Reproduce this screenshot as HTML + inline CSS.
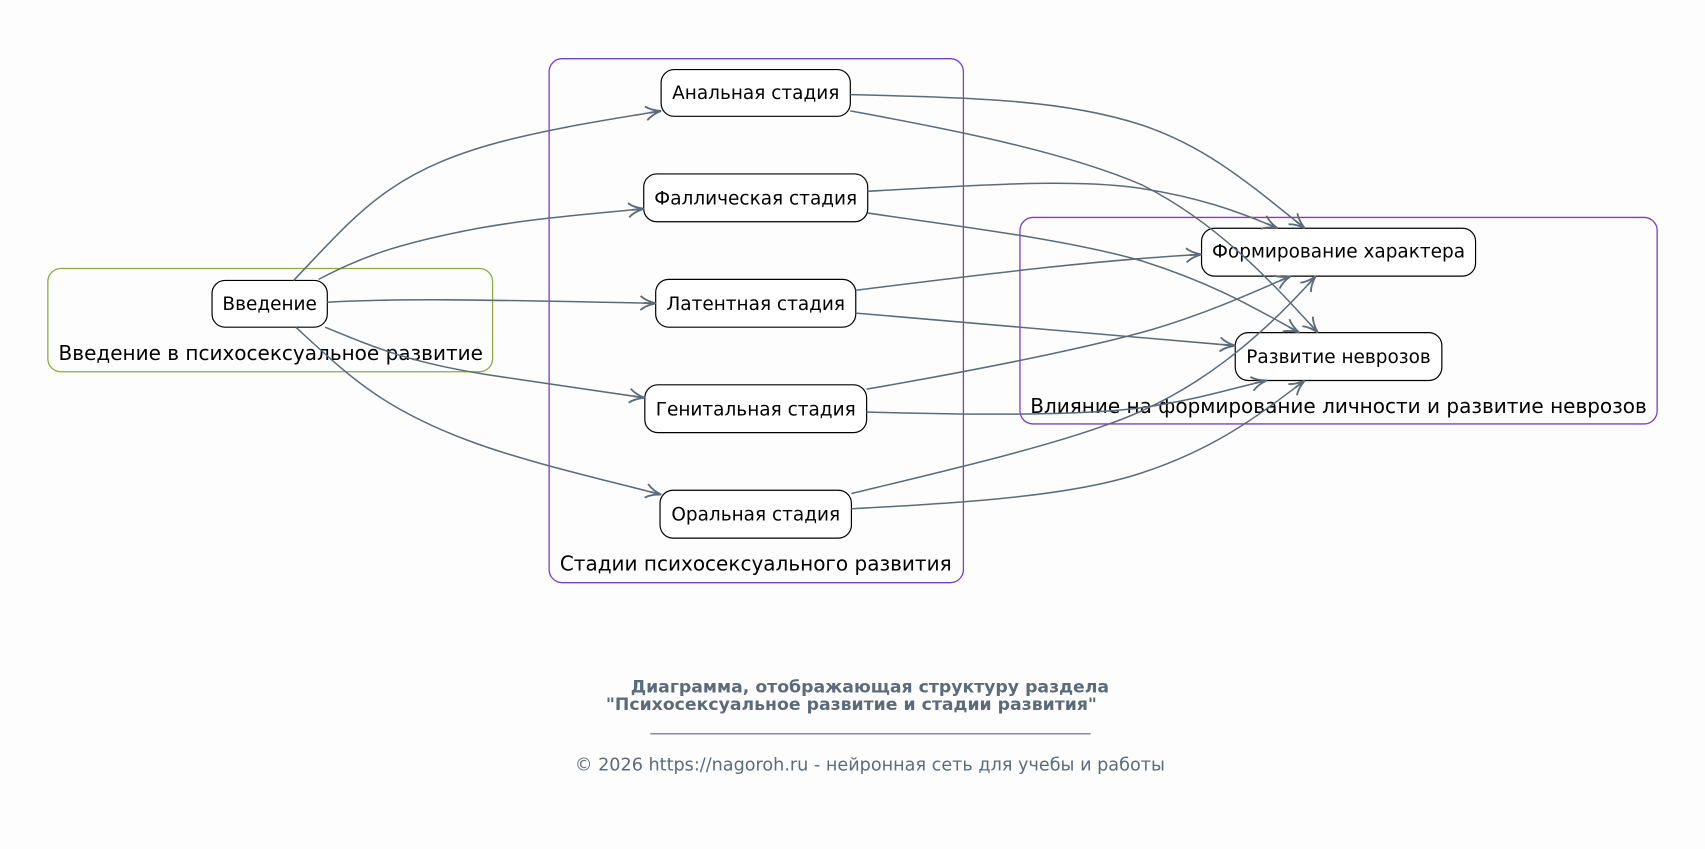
<!DOCTYPE html>
<html><head><meta charset="utf-8"><style>
html,body{margin:0;padding:0;background:#fdfdfd;}
svg{display:block;}
text{font-family:"DejaVu Sans","Liberation Sans",sans-serif;}
</style></head><body>
<svg width="1705" height="849" viewBox="0 0 1568 781" preserveAspectRatio="none" xmlns="http://www.w3.org/2000/svg">
<defs>
<marker id="a" viewBox="0 0 16 16" refX="15" refY="8" markerWidth="16" markerHeight="16" markerUnits="userSpaceOnUse" orient="auto">
<path d="M1,1.5 Q6,6 15,8 Q6,10 1,14.5 M15,8 L4,8" fill="none" stroke="#5c6b7a" stroke-width="1.7"/>
</marker>
</defs>
<rect width="1568" height="781" fill="#fdfdfd"/>
<rect x="44" y="247" width="409" height="95" rx="12" fill="none" stroke="#8aad3f" stroke-width="1.2"/>
<text x="249" y="331" font-size="18.4" text-anchor="middle">Введение в психосексуальное развитие</text>
<rect x="505" y="54" width="381" height="482" rx="12" fill="none" stroke="#7b3fc4" stroke-width="1.2"/>
<text x="695" y="525" font-size="18.4" text-anchor="middle">Стадии психосексуального развития</text>
<rect x="938" y="200" width="586" height="190" rx="12" fill="none" stroke="#7b3fc4" stroke-width="1.2"/>
<text x="1231" y="380" font-size="18.4" text-anchor="middle">Влияние на формирование личности и развитие неврозов</text>
<g fill="#fff" stroke="#000" stroke-width="1.1">
<rect x="195" y="258" width="106" height="43" rx="12"/>
<rect x="608" y="64" width="174" height="43" rx="12"/>
<rect x="592" y="160" width="206" height="44" rx="12"/>
<rect x="603" y="257" width="184" height="44" rx="12"/>
<rect x="593" y="354" width="204" height="44" rx="12"/>
<rect x="607" y="451" width="176" height="44" rx="12"/>
<rect x="1105" y="210" width="252" height="44" rx="12"/>
<rect x="1136" y="306" width="190" height="44" rx="12"/>
</g>
<g font-size="17" text-anchor="middle">
<text x="248" y="285">Введение</text>
<text x="695" y="91">Анальная стадия</text>
<text x="695" y="188">Фаллическая стадия</text>
<text x="695" y="285">Латентная стадия</text>
<text x="695" y="382">Генитальная стадия</text>
<text x="695" y="479">Оральная стадия</text>
<text x="1231" y="237">Формирование характера</text>
<text x="1231" y="334">Развитие неврозов</text>
</g>
<g fill="none" stroke="#5c6b7a" stroke-width="1.4" marker-end="url(#a)">
<path d="M270,258 C330,195 360,155 470,128 C520,116 560,110 608,102"/>
<path d="M293,257 C330,238 360,225 440,210 C490,201 540,197 592,192"/>
<path d="M301,278 C380,274 450,276 603,279"/>
<path d="M299,301 C350,322 380,334 450,345 L593,366"/>
<path d="M272,301 C320,345 350,375 430,405 C480,424 550,440 608,455"/>
<path d="M782,87 C900,90 980,92 1050,115 C1110,135 1150,170 1200,210"/>
<path d="M782,102 C880,120 980,140 1050,170 C1120,205 1170,260 1212,306"/>
<path d="M798,176 C900,170 980,165 1040,172 C1100,180 1140,195 1175,210"/>
<path d="M798,196 C880,208 980,220 1050,240 C1120,262 1160,287 1195,306"/>
<path d="M787,267 C900,253 1000,240 1105,234"/>
<path d="M787,288 L1136,318"/>
<path d="M797,358 C900,340 1000,320 1060,303 C1110,288 1150,270 1187,254"/>
<path d="M797,379 C900,382 1000,382 1050,375 C1100,368 1130,358 1165,350"/>
<path d="M783,454 C870,433 960,412 1020,390 C1100,362 1160,310 1210,254"/>
<path d="M783,468 C900,462 990,455 1050,435 C1120,412 1160,380 1200,350"/>
</g>
<g fill="#5c6b7a" text-anchor="middle">
<text x="800" y="637" font-size="15.9" font-weight="bold">Диаграмма, отображающая структуру раздела</text>
<text x="783" y="653" font-size="15.9" font-weight="bold">"Психосексуальное развитие и стадии развития"</text>
<text x="800" y="709" font-size="16.2">© 2026 https://nagoroh.ru - нейронная сеть для учебы и работы</text>
</g>
<line x1="598" y1="675" x2="1003" y2="675" stroke="#5c6b7a" stroke-width="1"/>
</svg>
</body></html>
